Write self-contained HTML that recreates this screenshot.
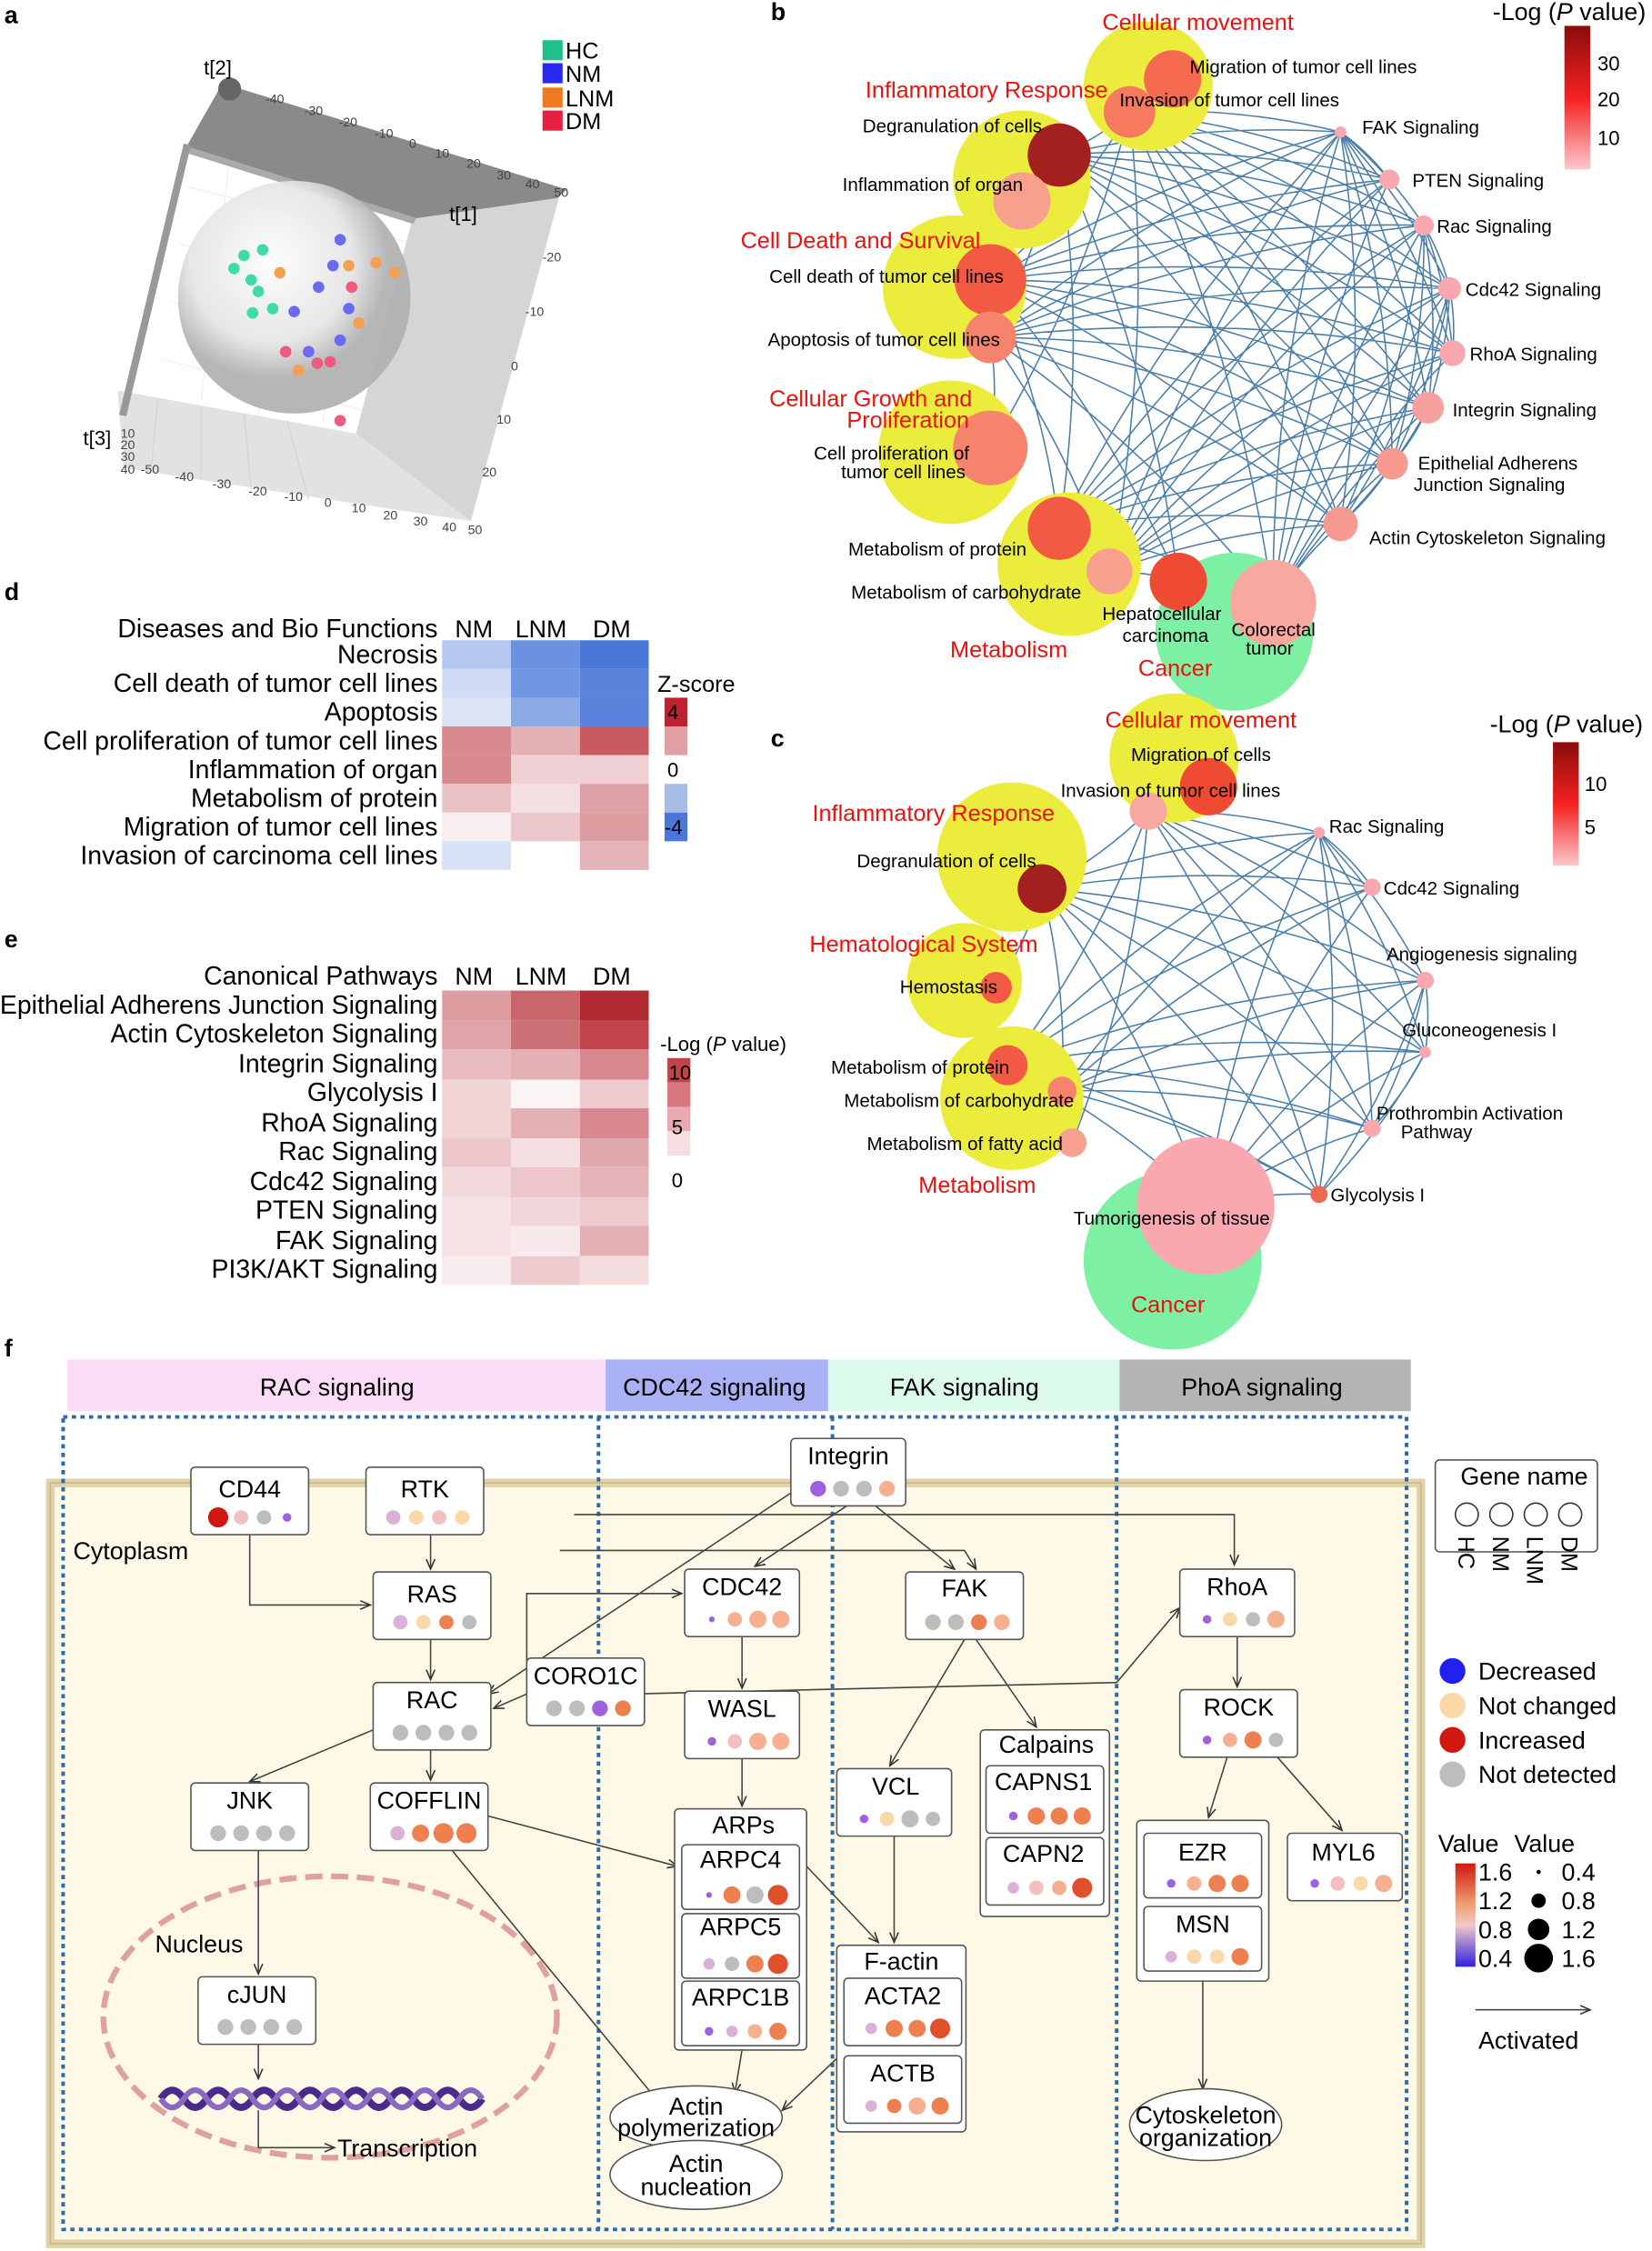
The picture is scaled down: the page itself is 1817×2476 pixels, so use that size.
<!DOCTYPE html>
<html><head><meta charset="utf-8"><style>
html,body{margin:0;padding:0;background:#fff}
svg{display:block}
text{font-family:"Liberation Sans",Arial,sans-serif}
.r{fill:#e8120c}
</style></head><body>
<svg id="s" width="1817" height="2476" viewBox="0 0 1151 1568" preserveAspectRatio="none" xmlns="http://www.w3.org/2000/svg">
<rect width="1151" height="1568" fill="#fff"/>
<g font-weight="bold" font-size="17"><text x="3" y="16">a</text><text x="537" y="14">b</text><text x="3" y="418">d</text><text x="537" y="520">c</text><text x="3" y="660">e</text><text x="3" y="945">f</text></g>

<!-- panel a -->
<g stroke="#eee" stroke-width="0.7"><line x1="130" y1="130" x2="290" y2="170"/><line x1="125" y1="170" x2="290" y2="210"/><line x1="118" y1="210" x2="280" y2="250"/><line x1="112" y1="250" x2="270" y2="290"/><line x1="160" y1="110" x2="140" y2="280"/><line x1="200" y1="120" x2="180" y2="290"/><line x1="240" y1="130" x2="225" y2="295"/></g>
<polygon points="288,150 390,136 328,363 248,302" fill="#d5d5d5"/>
<polygon points="82,272 248,302 328,363 86,326" fill="#e2e2e2"/>
<g stroke="#d0d0d0" stroke-width="0.6"><line x1="110" y1="278" x2="105" y2="330"/><line x1="140" y1="283" x2="140" y2="334"/><line x1="170" y1="288" x2="175" y2="341"/><line x1="200" y1="293" x2="215" y2="348"/></g>
<polygon points="155,58 395,132 388,138 290,152 130,102" fill="#8a8a8a"/>
<polygon points="130,102 290,152 288,156 128,106" fill="#aaa"/>
<polygon points="128,100 133,101 88,290 83,289" fill="#999"/>
<circle cx="160" cy="62" r="8" fill="#666"/>
<defs><radialGradient id="sp" cx="40%" cy="35%"><stop offset="0" stop-color="#fdfdfd"/><stop offset="0.7" stop-color="#e4e4e4"/><stop offset="1" stop-color="#b0b0b0"/></radialGradient></defs>
<circle cx="205" cy="207" r="81" fill="url(#sp)" opacity="0.92"/>
<g font-size="9" fill="#444"><text x="185" y="72">-40</text><text x="212" y="80">-30</text><text x="236" y="88">-20</text><text x="261" y="96">-10</text><text x="285" y="103">0</text><text x="303" y="110">10</text><text x="325" y="117">20</text><text x="346" y="125">30</text><text x="366" y="131">40</text><text x="386" y="137">50</text>
<text x="378" y="182">-20</text><text x="366" y="220">-10</text><text x="356" y="258">0</text><text x="346" y="295">10</text><text x="336" y="332">20</text>
<text x="98" y="330">-50</text><text x="122" y="335">-40</text><text x="148" y="340">-30</text><text x="173" y="345">-20</text><text x="198" y="349">-10</text><text x="226" y="353">0</text><text x="245" y="357">10</text><text x="267" y="362">20</text><text x="288" y="366">30</text><text x="308" y="370">40</text><text x="326" y="372">50</text>
<text x="84" y="305">10</text><text x="84" y="313">20</text><text x="84" y="321">30</text><text x="84" y="330">40</text></g>
<g font-size="14"><text x="142" y="52">t[2]</text><text x="313" y="154">t[1]</text><text x="58" y="310">t[3]</text></g>
<g fill="#3fdca8"><circle cx="170" cy="178" r="4"/><circle cx="183" cy="174" r="4"/><circle cx="175" cy="195" r="4"/><circle cx="180" cy="203" r="4"/><circle cx="190" cy="215" r="4"/><circle cx="176" cy="218" r="4"/><circle cx="163" cy="187" r="4"/></g>
<g fill="#6a6af4"><circle cx="237" cy="167" r="4"/><circle cx="232" cy="185" r="4"/><circle cx="222" cy="200" r="4"/><circle cx="205" cy="217" r="4"/><circle cx="243" cy="215" r="4"/><circle cx="237" cy="237" r="4"/><circle cx="215" cy="245" r="4"/></g>
<g fill="#f4a050"><circle cx="243" cy="185" r="4"/><circle cx="262" cy="183" r="4"/><circle cx="275" cy="190" r="4"/><circle cx="250" cy="225" r="4"/><circle cx="208" cy="258" r="4"/><circle cx="195" cy="190" r="4"/></g>
<g fill="#ee5a80"><circle cx="245" cy="200" r="4"/><circle cx="199" cy="245" r="4"/><circle cx="221" cy="253" r="4"/><circle cx="230" cy="252" r="4"/><circle cx="237" cy="293" r="4"/></g>
<g font-size="16"><rect x="378" y="28" width="14" height="14" fill="#1fbf8a"/><text x="394" y="41">HC</text>
<rect x="378" y="44" width="14" height="14" fill="#2a2af0"/><text x="394" y="57">NM</text>
<rect x="378" y="61" width="14" height="14" fill="#f07820"/><text x="394" y="74">LNM</text>
<rect x="378" y="77" width="14" height="14" fill="#e82040"/><text x="394" y="90">DM</text></g>

<!-- panel b -->
<g id="eb" stroke="#2e6a9a" stroke-width="1" fill="none" opacity="0.85"></g>
<g fill="#ecec3c"><circle cx="800" cy="60" r="45"/><circle cx="712" cy="125" r="48"/><circle cx="665" cy="200" r="50"/><circle cx="662" cy="315" r="50"/><circle cx="745" cy="393" r="50"/></g>
<circle cx="860" cy="440" r="55" fill="#7ef0a4"/>
<g><circle cx="817" cy="55" r="20" fill="#f5694f"/><circle cx="787" cy="78" r="18" fill="#f57a60"/><circle cx="738" cy="108" r="22" fill="#a3201e"/><circle cx="712" cy="140" r="20" fill="#f8a08e"/><circle cx="690" cy="195" r="25" fill="#f25a44"/><circle cx="690" cy="235" r="18" fill="#f6846c"/><circle cx="690" cy="312" r="26" fill="#f6846c"/><circle cx="738" cy="368" r="22" fill="#f25a44"/><circle cx="773" cy="398" r="16" fill="#f8a08e"/><circle cx="821" cy="405" r="20" fill="#ef4a32"/><circle cx="887" cy="420" r="30" fill="#f9a8a0"/></g>
<g fill="#f9a8b0"><circle cx="934" cy="92" r="4"/><circle cx="968" cy="125" r="7"/><circle cx="992" cy="157" r="7"/><circle cx="1010" cy="201" r="8"/><circle cx="1012" cy="246" r="9"/><circle cx="995" cy="284" r="11" fill="#f8a0a0"/><circle cx="970" cy="323" r="11" fill="#f69a90"/><circle cx="934" cy="365" r="12" fill="#f69a90"/></g>
<g font-size="16" class="r"><text x="768" y="21">Cellular movement</text><text x="603" y="68">Inflammatory Response</text><text x="516" y="173">Cell Death and Survival</text><text x="536" y="283">Cellular Growth and</text><text x="590" y="298">Proliferation</text><text x="662" y="458">Metabolism</text><text x="793" y="471">Cancer</text></g>
<g font-size="13"><text x="829" y="51">Migration of tumor cell lines</text><text x="780" y="74">Invasion of tumor cell lines</text><text x="601" y="92">Degranulation of cells</text><text x="587" y="133">Inflammation of organ</text><text x="536" y="197">Cell death of tumor cell lines</text><text x="535" y="241">Apoptosis of tumor cell lines</text><text x="567" y="320">Cell proliferation of</text><text x="586" y="333">tumor cell lines</text><text x="591" y="387">Metabolism of protein</text><text x="593" y="417">Metabolism of carbohydrate</text><text x="768" y="432">Hepatocellular</text><text x="782" y="447">carcinoma</text><text x="858" y="443">Colorectal</text><text x="868" y="456">tumor</text>
<text x="949" y="93">FAK Signaling</text><text x="984" y="130">PTEN Signaling</text><text x="1001" y="162">Rac Signaling</text><text x="1021" y="206">Cdc42 Signaling</text><text x="1024" y="251">RhoA Signaling</text><text x="1012" y="290">Integrin Signaling</text><text x="988" y="327">Epithelial Adherens</text><text x="985" y="342">Junction Signaling</text><text x="954" y="379">Actin Cytoskeleton Signaling</text></g>
<text x="1040" y="14" font-size="17">-Log (<tspan font-style="italic">P</tspan> value)</text>
<defs><linearGradient id="lg" x1="0" y1="1" x2="0" y2="0"><stop offset="0" stop-color="#fcc8cc"/><stop offset="0.5" stop-color="#f52020"/><stop offset="1" stop-color="#8a0c0c"/></linearGradient></defs>
<rect x="1090" y="18" width="18" height="100" fill="url(#lg)"/>
<g font-size="14"><text x="1113" y="49">30</text><text x="1113" y="74">20</text><text x="1113" y="101">10</text></g>

<!-- panel c -->
<g id="ec" stroke="#2e6a9a" stroke-width="1" fill="none" opacity="0.85"></g>
<g fill="#ecec3c"><circle cx="818" cy="528" r="45"/><circle cx="705" cy="597" r="52"/><circle cx="672" cy="683" r="40"/><circle cx="705" cy="765" r="50"/></g>
<circle cx="817" cy="878" r="62" fill="#7ef0a4"/>
<circle cx="842" cy="548" r="20" fill="#ef4a32"/><circle cx="800" cy="565" r="13" fill="#f9a8a0"/><circle cx="726" cy="619" r="17" fill="#a3201e"/><circle cx="694" cy="688" r="11" fill="#f25a44"/><circle cx="702" cy="742" r="14" fill="#f25a44"/><circle cx="740" cy="760" r="10" fill="#f6846c"/><circle cx="747" cy="796" r="10" fill="#f8a08e"/><circle cx="840" cy="840" r="48" fill="#f9a8b0"/>
<g fill="#f9a8b0"><circle cx="919" cy="580" r="4"/><circle cx="956" cy="618" r="6"/><circle cx="993" cy="683" r="6"/><circle cx="993" cy="733" r="4"/><circle cx="956" cy="786" r="6"/><circle cx="919" cy="832" r="6" fill="#f06850"/></g>
<g font-size="16" class="r"><text x="770" y="507">Cellular movement</text><text x="566" y="572">Inflammatory Response</text><text x="564" y="663">Hematological System</text><text x="640" y="831">Metabolism</text></g>
<text x="788" y="914" font-size="16" fill="#e8120c">Cancer</text>
<g font-size="13"><text x="788" y="530">Migration of cells</text><text x="739" y="555">Invasion of tumor cell lines</text><text x="597" y="604">Degranulation of cells</text><text x="627" y="692">Hemostasis</text><text x="579" y="748">Metabolism of protein</text><text x="588" y="771">Metabolism of carbohydrate</text><text x="604" y="801">Metabolism of fatty acid</text><text x="748" y="853">Tumorigenesis of tissue</text>
<text x="926" y="580">Rac Signaling</text><text x="964" y="623">Cdc42 Signaling</text><text x="966" y="669">Angiogenesis signaling</text><text x="977" y="722">Gluconeogenesis I</text><text x="959" y="780">Prothrombin Activation</text><text x="976" y="793">Pathway</text><text x="927" y="837">Glycolysis I</text></g>
<text x="1038" y="510" font-size="17">-Log (<tspan font-style="italic">P</tspan> value)</text>
<rect x="1082" y="517" width="18" height="86" fill="url(#lg)"/>
<g font-size="14"><text x="1104" y="551">10</text><text x="1104" y="581">5</text></g>

<!-- panel d -->
<g font-size="18" text-anchor="end"><text x="305" y="444">Diseases and Bio Functions</text><text x="305" y="462">Necrosis</text><text x="305" y="482">Cell death of tumor cell lines</text><text x="305" y="502">Apoptosis</text><text x="305" y="522">Cell proliferation of tumor cell lines</text><text x="305" y="542">Inflammation of organ</text><text x="305" y="562">Metabolism of protein</text><text x="305" y="582">Migration of tumor cell lines</text><text x="305" y="602">Invasion of carcinoma cell lines</text></g>
<g font-size="17"><text x="317" y="444">NM</text><text x="359" y="444">LNM</text><text x="413" y="444">DM</text></g>
<g>
<rect x="308" y="446" width="48" height="20" fill="#b6c8ee"/><rect x="356" y="446" width="48" height="20" fill="#6a92e0"/><rect x="404" y="446" width="48" height="20" fill="#4a78d8"/>
<rect x="308" y="466" width="48" height="20" fill="#cfdcf4"/><rect x="356" y="466" width="48" height="20" fill="#7098e2"/><rect x="404" y="466" width="48" height="20" fill="#5a84dc"/>
<rect x="308" y="486" width="48" height="20" fill="#dbe4f6"/><rect x="356" y="486" width="48" height="20" fill="#8caae6"/><rect x="404" y="486" width="48" height="20" fill="#5a84dc"/>
<rect x="308" y="506" width="48" height="20" fill="#d88a8e"/><rect x="356" y="506" width="48" height="20" fill="#e4b0b4"/><rect x="404" y="506" width="48" height="20" fill="#c85a60"/>
<rect x="308" y="526" width="48" height="20" fill="#d88a8e"/><rect x="356" y="526" width="48" height="20" fill="#f0d0d4"/><rect x="404" y="526" width="48" height="20" fill="#f0d0d4"/>
<rect x="308" y="546" width="48" height="20" fill="#eac2c6"/><rect x="356" y="546" width="48" height="20" fill="#f4e0e2"/><rect x="404" y="546" width="48" height="20" fill="#dea0a4"/>
<rect x="308" y="566" width="48" height="20" fill="#f8eef0"/><rect x="356" y="566" width="48" height="20" fill="#ecc8cc"/><rect x="404" y="566" width="48" height="20" fill="#dc9ca0"/>
<rect x="308" y="586" width="48" height="20" fill="#d8e2f6"/><rect x="404" y="586" width="48" height="20" fill="#e4b4b8"/>
</g>
<text x="458" y="482" font-size="16">Z-score</text>
<rect x="463" y="486" width="16" height="20" fill="#c02030"/><rect x="463" y="506" width="16" height="20" fill="#e0a0a4"/><rect x="463" y="546" width="16" height="20" fill="#a8bce8"/><rect x="463" y="566" width="16" height="20" fill="#4a78d8"/>
<g font-size="14"><text x="465" y="501">4</text><text x="465" y="541">0</text><text x="463" y="581">-4</text></g>

<!-- panel e -->
<g font-size="18" text-anchor="end"><text x="305" y="686">Canonical Pathways</text><text x="305" y="706">Epithelial Adherens Junction Signaling</text><text x="305" y="726">Actin Cytoskeleton Signaling</text><text x="305" y="747">Integrin Signaling</text><text x="305" y="767">Glycolysis I</text><text x="305" y="788">RhoA Signaling</text><text x="305" y="808">Rac Signaling</text><text x="305" y="829">Cdc42 Signaling</text><text x="305" y="849">PTEN Signaling</text><text x="305" y="870">FAK Signaling</text><text x="305" y="890">PI3K/AKT Signaling</text></g>
<g font-size="17"><text x="317" y="686">NM</text><text x="359" y="686">LNM</text><text x="413" y="686">DM</text></g>
<g>
<rect x="308" y="690" width="48" height="21" fill="#dc9ca0"/><rect x="356" y="690" width="48" height="21" fill="#c8666c"/><rect x="404" y="690" width="48" height="21" fill="#b02830"/>
<rect x="308" y="711" width="48" height="20" fill="#dea4a8"/><rect x="356" y="711" width="48" height="20" fill="#cc7276"/><rect x="404" y="711" width="48" height="20" fill="#c0444a"/>
<rect x="308" y="731" width="48" height="21" fill="#e8bcc0"/><rect x="356" y="731" width="48" height="21" fill="#e4b0b4"/><rect x="404" y="731" width="48" height="21" fill="#d8888e"/>
<rect x="308" y="752" width="48" height="20" fill="#f0d4d6"/><rect x="356" y="752" width="48" height="20" fill="#fbf4f5"/><rect x="404" y="752" width="48" height="20" fill="#eccacd"/>
<rect x="308" y="772" width="48" height="21" fill="#f0d4d6"/><rect x="356" y="772" width="48" height="21" fill="#e4b0b4"/><rect x="404" y="772" width="48" height="21" fill="#d8888e"/>
<rect x="308" y="793" width="48" height="20" fill="#ecc6ca"/><rect x="356" y="793" width="48" height="20" fill="#f4e0e2"/><rect x="404" y="793" width="48" height="20" fill="#e0a8ac"/>
<rect x="308" y="813" width="48" height="21" fill="#f2dadc"/><rect x="356" y="813" width="48" height="21" fill="#ecc6ca"/><rect x="404" y="813" width="48" height="21" fill="#e6b4b8"/>
<rect x="308" y="834" width="48" height="20" fill="#f4e2e4"/><rect x="356" y="834" width="48" height="20" fill="#f0d8da"/><rect x="404" y="834" width="48" height="20" fill="#eccacd"/>
<rect x="308" y="854" width="48" height="21" fill="#f4e2e4"/><rect x="356" y="854" width="48" height="21" fill="#f8eaec"/><rect x="404" y="854" width="48" height="21" fill="#e4b0b4"/>
<rect x="308" y="875" width="48" height="20" fill="#f8ecee"/><rect x="356" y="875" width="48" height="20" fill="#eccacd"/><rect x="404" y="875" width="48" height="20" fill="#f2dcde"/>
</g>
<text x="460" y="732" font-size="14">-Log (<tspan font-style="italic">P</tspan> value)</text>
<rect x="465" y="737" width="16" height="17" fill="#c0444a"/><rect x="465" y="754" width="16" height="17" fill="#d8787e"/><rect x="465" y="771" width="16" height="17" fill="#e8aab0"/><rect x="465" y="788" width="16" height="17" fill="#f6dde0"/>
<g font-size="14"><text x="466" y="752">10</text><text x="468" y="790">5</text><text x="468" y="827">0</text></g>

<!-- panel f -->
<rect x="47" y="947" width="375" height="36" fill="#fbdcf6"/><rect x="422" y="947" width="155" height="36" fill="#aab0f4"/><rect x="577" y="947" width="203" height="36" fill="#dcfaec"/><rect x="780" y="947" width="203" height="36" fill="#b4b4b4"/>
<g font-size="17"><text x="181" y="972">RAC signaling</text><text x="434" y="972">CDC42 signaling</text><text x="620" y="972">FAK signaling</text><text x="823" y="972">PhoA signaling</text></g>
<rect x="35" y="1033" width="955" height="530" fill="#fdf9e6" stroke="#e2d2a8" stroke-width="6"/>
<rect x="35" y="1033" width="955" height="530" fill="none" stroke="#c8b890" stroke-width="1"/>
<g fill="none" stroke="#2e6aa6" stroke-width="2.5" stroke-dasharray="3,3"><rect x="44" y="987" width="936" height="566"/><line x1="417" y1="987" x2="417" y2="1553"/><line x1="580" y1="987" x2="580" y2="1553"/><line x1="778" y1="987" x2="778" y2="1553"/></g>
<text x="51" y="1086" font-size="17">Cytoplasm</text>
<ellipse cx="230" cy="1405" rx="158" ry="98" fill="none" stroke="#e0a0a0" stroke-width="4" stroke-dasharray="12,6"/>
<text x="108" y="1360" font-size="17">Nucleus</text>
<path d="M112,1462 q8,-12 16,0 t16,0 t16,0 t16,0 t16,0 t16,0 t16,0 t16,0 t16,0 t16,0 t16,0 t16,0 t16,0 t16,0" fill="none" stroke="#4a2a8a" stroke-width="5"/>
<path d="M112,1462 q8,12 16,0 t16,0 t16,0 t16,0 t16,0 t16,0 t16,0 t16,0 t16,0 t16,0 t16,0 t16,0 t16,0 t16,0" fill="none" stroke="#8a6ac0" stroke-width="4"/>
<text x="235" y="1502" font-size="17">Transcription</text>
<defs><marker id="ar" markerWidth="8" markerHeight="8" refX="7" refY="4" orient="auto"><path d="M0,1 L7,4 L0,7" fill="none" stroke="#333"/></marker></defs>
<g stroke="#444" stroke-width="1" fill="none" marker-end="url(#ar)">
<path d="M174,1069 V1118 H258"/><line x1="300" y1="1069" x2="300" y2="1093"/><line x1="300" y1="1142" x2="300" y2="1170"/><line x1="260" y1="1205" x2="174" y2="1241"/><line x1="300" y1="1219" x2="300" y2="1240"/><line x1="180" y1="1289" x2="180" y2="1375"/><path d="M180,1424 V1448"/><path d="M180,1470 V1496 H233"/><line x1="367" y1="1180" x2="344" y2="1190"/><path d="M367,1170 V1110 H475"/><line x1="340" y1="1265" x2="472" y2="1300"/><line x1="315" y1="1289" x2="462" y2="1468"/>
<line x1="590" y1="1049" x2="526" y2="1091"/><line x1="610" y1="1049" x2="665" y2="1093"/><path d="M551,1040 L340,1180"/><path d="M400,1055 L860,1055 L860,1090"/><path d="M390,1080 L672,1080 L680,1093"/><line x1="517" y1="1140" x2="517" y2="1176"/><line x1="517" y1="1225" x2="517" y2="1258"/><line x1="672" y1="1142" x2="620" y2="1230"/><line x1="680" y1="1142" x2="722" y2="1203"/><line x1="623" y1="1279" x2="623" y2="1353"/><line x1="562" y1="1300" x2="612" y2="1353"/><path d="M440,1180 L778,1172 L822,1120"/><line x1="862" y1="1140" x2="862" y2="1175"/><line x1="855" y1="1224" x2="842" y2="1266"/><line x1="890" y1="1224" x2="935" y2="1275"/><line x1="838" y1="1378" x2="838" y2="1455"/><line x1="517" y1="1428" x2="512" y2="1458"/><line x1="585" y1="1432" x2="545" y2="1470"/>
<line x1="1028" y1="1400" x2="1108" y2="1400"/></g>
<g fill="#fff" stroke="#555" stroke-width="1">
<ellipse cx="485" cy="1475" rx="60" ry="22"/><ellipse cx="485" cy="1515" rx="60" ry="24"/><ellipse cx="840" cy="1480" rx="53" ry="25"/>
<rect x="470" y="1260" width="92" height="168" rx="3"/><rect x="683" y="1205" width="90" height="130" rx="3"/><rect x="583" y="1355" width="90" height="130" rx="3"/><rect x="792" y="1268" width="92" height="112" rx="3"/>
<rect x="133" y="1022" width="82" height="47" rx="3"/><rect x="255" y="1022" width="82" height="47" rx="3"/><rect x="260" y="1095" width="82" height="47" rx="3"/><rect x="260" y="1172" width="82" height="47" rx="3"/><rect x="367" y="1155" width="82" height="47" rx="3"/><rect x="133" y="1242" width="82" height="47" rx="3"/><rect x="258" y="1242" width="82" height="47" rx="3"/><rect x="138" y="1377" width="82" height="47" rx="3"/>
<rect x="551" y="1002" width="80" height="47" rx="3"/><rect x="477" y="1093" width="80" height="47" rx="3"/><rect x="631" y="1095" width="82" height="47" rx="3"/><rect x="822" y="1093" width="80" height="47" rx="3"/><rect x="477" y="1178" width="80" height="47" rx="3"/>
<rect x="475" y="1285" width="82" height="45" rx="3"/><rect x="475" y="1333" width="82" height="45" rx="3"/><rect x="475" y="1380" width="82" height="45" rx="3"/><rect x="583" y="1232" width="80" height="47" rx="3"/>
<rect x="687" y="1230" width="82" height="47" rx="3"/><rect x="687" y="1280" width="82" height="47" rx="3"/><rect x="588" y="1378" width="82" height="47" rx="3"/><rect x="588" y="1432" width="82" height="47" rx="3"/>
<rect x="822" y="1177" width="82" height="47" rx="3"/><rect x="797" y="1277" width="82" height="45" rx="3"/><rect x="797" y="1328" width="82" height="45" rx="3"/><rect x="897" y="1277" width="80" height="47" rx="3"/>
<rect x="1000" y="1017" width="113" height="64" rx="3"/>
</g>
<g font-size="17" text-anchor="middle">
<text x="174" y="1043">CD44</text><text x="296" y="1043">RTK</text><text x="301" y="1116">RAS</text><text x="301" y="1190">RAC</text><text x="408" y="1173">CORO1C</text><text x="174" y="1260">JNK</text><text x="299" y="1260">COFFLIN</text><text x="179" y="1395">cJUN</text>
<text x="591" y="1020">Integrin</text><text x="517" y="1111">CDC42</text><text x="672" y="1112">FAK</text><text x="862" y="1111">RhoA</text><text x="517" y="1196">WASL</text><text x="518" y="1277">ARPs</text><text x="516" y="1301">ARPC4</text><text x="516" y="1348">ARPC5</text><text x="516" y="1397">ARPC1B</text><text x="624" y="1250">VCL</text><text x="729" y="1221">Calpains</text><text x="727" y="1247">CAPNS1</text><text x="727" y="1297">CAPN2</text><text x="628" y="1372">F-actin</text><text x="629" y="1396">ACTA2</text><text x="629" y="1450">ACTB</text><text x="863" y="1195">ROCK</text><text x="838" y="1296">EZR</text><text x="838" y="1346">MSN</text><text x="936" y="1296">MYL6</text>
<text x="485" y="1473">Actin</text><text x="485" y="1488">polymerization</text><text x="485" y="1513">Actin</text><text x="485" y="1529">nucleation</text><text x="840" y="1479">Cytoskeleton</text><text x="840" y="1495">organization</text>
<text x="1062" y="1034">Gene name</text></g>
<g id="dots"></g>
<g fill="none" stroke="#333"><circle cx="1022" cy="1055" r="8"/><circle cx="1046" cy="1055" r="8"/><circle cx="1070" cy="1055" r="8"/><circle cx="1094" cy="1055" r="8"/></g>
<g font-size="16"><text transform="translate(1016,1070) rotate(90)">HC</text><text transform="translate(1040,1070) rotate(90)">NM</text><text transform="translate(1064,1070) rotate(90)">LNM</text><text transform="translate(1088,1070) rotate(90)">DM</text></g>
<circle cx="1012" cy="1164" r="9" fill="#2020f0"/><circle cx="1012" cy="1188" r="9" fill="#fad8a8"/><circle cx="1012" cy="1212" r="9" fill="#d01810"/><circle cx="1012" cy="1236" r="9" fill="#bdbdbd"/>
<g font-size="17"><text x="1030" y="1170">Decreased</text><text x="1030" y="1194">Not changed</text><text x="1030" y="1218">Increased</text><text x="1030" y="1242">Not detected</text><text x="1002" y="1290">Value</text><text x="1055" y="1290">Value</text>
<text x="1030" y="1310">1.6</text><text x="1030" y="1330">1.2</text><text x="1030" y="1350">0.8</text><text x="1030" y="1370">0.4</text><text x="1088" y="1310">0.4</text><text x="1088" y="1330">0.8</text><text x="1088" y="1350">1.2</text><text x="1088" y="1370">1.6</text><text x="1030" y="1427">Activated</text></g>
<defs><linearGradient id="vg" x1="0" y1="0" x2="0" y2="1"><stop offset="0" stop-color="#d01810"/><stop offset="0.4" stop-color="#f0a070"/><stop offset="0.6" stop-color="#f0c8c8"/><stop offset="1" stop-color="#3020e0"/></linearGradient></defs>
<rect x="1014" y="1298" width="14" height="72" fill="url(#vg)"/>
<circle cx="1072" cy="1304" r="1.5"/><circle cx="1072" cy="1324" r="5"/><circle cx="1072" cy="1344" r="7.5"/><circle cx="1072" cy="1364" r="10"/>
</svg>
<script>
var NS="http://www.w3.org/2000/svg";
function edges(g,L,R){var e=document.getElementById(g),d="";
var all=L.concat(R);
for(var i=0;i<all.length;i++)for(var j=i+1;j<all.length;j++){if(((i*7+j*3)%3)==0)continue;if(i<L.length&&j<L.length&&((i+j)%2==0))continue;
var a=all[i],b=all[j],mx=(a[0]+b[0])/2,my=(a[1]+b[1])/2;d+="M"+a[0]+","+a[1]+"Q"+(mx+(my-a[1])*0.15)+","+(my-(mx-a[0])*0.15)+" "+b[0]+","+b[1];}
var p=document.createElementNS(NS,"path");p.setAttribute("d",d);e.appendChild(p);}
edges("eb",[[817,55],[787,78],[738,108],[712,140],[690,195],[690,235],[690,312],[738,368],[773,398],[821,405],[887,420]],[[934,92],[968,125],[992,157],[1010,201],[1012,246],[995,284],[970,323],[934,365]]);
edges("ec",[[842,548],[800,565],[726,619],[694,688],[702,742],[740,760],[747,796],[840,840]],[[919,580],[956,618],[993,683],[993,733],[956,786],[919,832]]);
var C={g:"#bdbdbd",o:"#f6b090",O:"#ee8050",R:"#e0502a",p:"#dcb0d8",v:"#a060e0",y:"#fad8a8",r:"#d01810",P:"#f2c0c0"};
var D=[[133,1022,"rPgv",[7,5,5,3]],[255,1022,"pyPy",[5,5,5,5]],[260,1095,"pyOg",[5,5,5,5]],[260,1172,"gggg"],[367,1155,"ggvO"],[133,1242,"gggg"],[258,1242,"pOOO",[5,6,7,7]],[138,1377,"gggg"],
[551,1002,"vggo"],[477,1093,"vooo",[2,5,6,6]],[631,1095,"ggOo"],[822,1093,"vygo",[3,5,5,6]],[477,1178,"vPoo",[3,5,6,6]],[475,1285,"vOgR",[2,6,6,7]],[475,1333,"pgOR",[4,5,6,7]],[475,1380,"vpoO",[3,4,5,6]],[583,1232,"vygg",[3,5,6,5]],
[687,1230,"vOOO",[3,6,6,6]],[687,1280,"pPoR",[4,5,5,7]],[588,1378,"pOOR",[4,6,6,7]],[588,1432,"pOoO",[4,5,6,6]],[822,1177,"voOg",[3,5,6,5]],[797,1277,"voOO",[3,5,6,6]],[797,1328,"pyyO",[4,5,5,6]],[897,1277,"vPyo",[3,5,5,6]]];
var gd=document.getElementById("dots");
D.forEach(function(b){for(var k=0;k<4;k++){var c=document.createElementNS(NS,"circle");c.setAttribute("cx",b[0]+19+k*16);c.setAttribute("cy",b[1]+35);c.setAttribute("r",b[3]?b[3][k]:5.5);c.setAttribute("fill",C[b[2][k]]);gd.appendChild(c);}});
</script>
</body></html>
